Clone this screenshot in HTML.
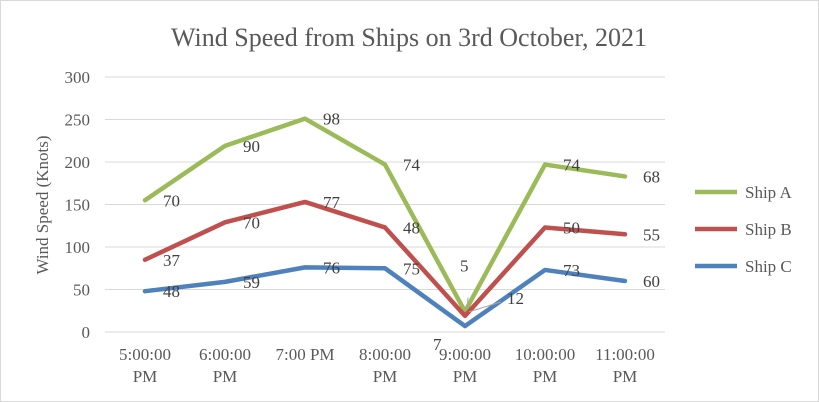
<!DOCTYPE html>
<html><head><meta charset="utf-8"><style>
body{margin:0;background:#fff}
svg{display:block;font-family:"Liberation Serif",serif}
</style></head><body>
<svg id="chart" width="819" height="402">
<rect x="0.5" y="0.5" width="818" height="401" fill="#fff" stroke="#d9d9d9"/>
<text x="409" y="46" text-anchor="middle" font-size="26" fill="#595959">Wind Speed from Ships on 3rd October, 2021</text>
<text transform="translate(48,205) rotate(-90)" text-anchor="middle" font-size="17" fill="#595959">Wind Speed (Knots)</text>
<g id="grid"></g><g id="yticks"></g><g id="xticks"></g><g id="lines"></g><g id="labels"></g><g id="legend"></g>
</svg>
<script>
const categories=[["5:00:00","PM"],["6:00:00","PM"],["7:00 PM"],["8:00:00","PM"],["9:00:00","PM"],["10:00:00","PM"],["11:00:00","PM"]];
const shipC=[48,59,76,75,7,73,60];
const shipB=[37,70,77,48,12,50,55];
const shipA=[70,90,98,74,5,74,68];
const yTicks=[0,50,100,150,200,250,300];
const seriesNames=["Ship A","Ship B","Ship C"];
const NS="http://www.w3.org/2000/svg";
const x=i=>145+i*80, y=v=>332-v*0.85;
function mk(t,a,p){const e=document.createElementNS(NS,t);for(const k in a)e.setAttribute(k,a[k]);document.getElementById(p).appendChild(e);return e;}
yTicks.forEach(v=>{
 if(v>0){const g=mk('line',{x1:105,x2:665,y1:y(v),y2:y(v),stroke:'#d9d9d9','stroke-width':1},'grid');
 
 }
 const t=mk('text',{x:90,y:y(v)+6,'text-anchor':'end','font-size':17,fill:'#595959'},'yticks');t.textContent=v;
 
 
});
const ax=mk('line',{x1:105,x2:665,y1:332,y2:332,stroke:'#d9d9d9'},'grid');


categories.forEach((c,i)=>{
 const t=mk('text',{'text-anchor':'middle','font-size':17,fill:'#595959'},'xticks');
 
 
 c.forEach((s,j)=>{const ts=document.createElementNS(NS,'tspan');ts.setAttribute('x',x(i));ts.setAttribute('y',360+j*22);ts.textContent=s;t.appendChild(ts);});
});
const cumC=shipC.slice(), cumB=shipB.map((v,i)=>v+cumC[i]), cumA=shipA.map((v,i)=>v+cumB[i]);
const series=[[cumA,shipA,'#9BBB59','ship-a'],[cumB,shipB,'#C0504D','ship-b'],[cumC,shipC,'#4F81BD','ship-c']];
const special={'ship-a':[-5,-40],'ship-b':[42,-12],'ship-c':[-32,24]};
series.forEach(([cum,raw,col,nm],si)=>{
 const p=mk('polyline',{points:cum.map((v,i)=>x(i)+','+y(v)).join(' '),fill:'none',stroke:col,'stroke-width':4.5,'stroke-linejoin':'round','stroke-linecap':'round'},'lines');
 
 
 raw.forEach((v,i)=>{
  let dx=18,dy=6;
  if(i==4){dx=special[nm][0];dy=special[nm][1];}
  const t=mk('text',{x:x(i)+dx,y:y(cum[i])+dy,'font-size':17,fill:'#404040'},'labels');t.textContent=v;
  
  
 });
 const ly=192+si*37;
 const l=mk('line',{x1:695,x2:737,y1:ly,y2:ly,stroke:col,'stroke-width':4.5},'legend');
 
 
 const lt=mk('text',{x:745,y:ly+6,'font-size':17,fill:'#595959'},'legend');lt.textContent=seriesNames[si];
 
 
});
const ll=mk('polyline',{points:(x(4)+2)+','+(y(cumA[4])-2)+' '+(x(4)+3)+','+(y(cumA[4])-14),fill:'none',stroke:'#a6a6a6','stroke-width':1},'labels');


const lb=mk('line',{x1:x(4)+4,y1:y(cumB[4])-4,x2:x(4)+36,y2:y(cumB[4])-14,stroke:'#a6a6a6','stroke-width':1},'labels');


</script>
</body></html>
